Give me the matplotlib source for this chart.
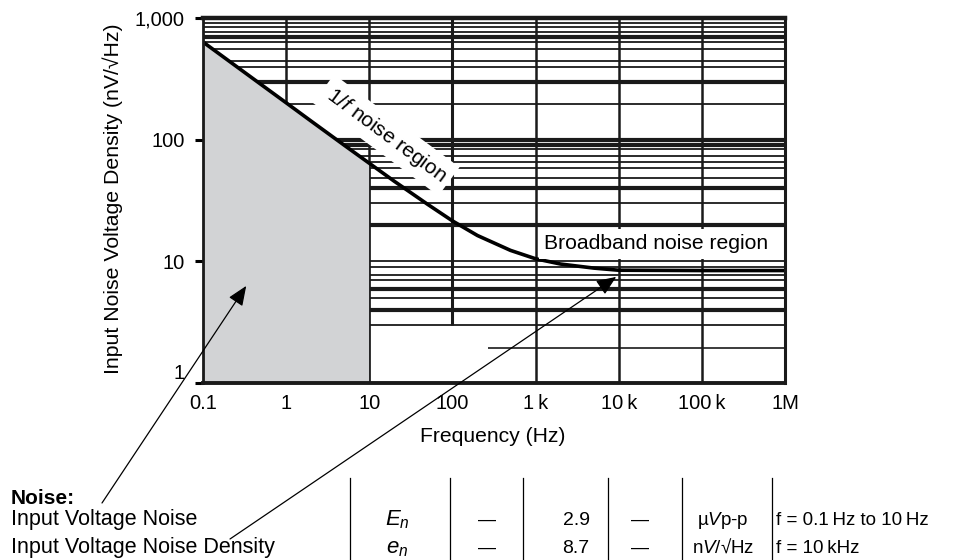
import matplotlib
matplotlib.use("Agg")
import matplotlib.pyplot as plt
from matplotlib.lines import Line2D

plt.rcParams['font.family'] = ['Liberation Sans', 'DejaVu Sans']
plt.rcParams['mathtext.fontset'] = 'custom'
plt.rcParams['mathtext.rm'] = 'Liberation Sans'
plt.rcParams['mathtext.it'] = 'Liberation Sans:italic'
plt.rcParams['mathtext.bf'] = 'Liberation Sans:bold'

# ---- data ----
freq = [0.1, 0.2, 0.5, 1, 2, 5, 10, 20, 50, 100, 200, 500, 1e3, 2e3, 5e3, 1e4, 1e5, 1e6]
noise = [635, 449, 284, 201, 142, 90, 64, 45.5, 29.5, 21.5, 16.3, 12.3, 10.5, 9.5, 8.8, 8.45, 8.4, 8.4]
shade_end = 10  # 1/f region shaded from 0.1 Hz to 10 Hz

x_ticks = [0.1, 1, 10, 100, 1e3, 1e4, 1e5, 1e6]
x_labels = ['0.1', '1', '10', '100', '1\u2009k', '10\u2009k', '100\u2009k', '1M']
y_ticks = [1, 10, 100, 1000]
y_labels = ['1', '10', '100', '1,000']

grid_thin = [910, 843, 767, 635, 556, 443, 396, 196, 84, 73.5, 65.6, 58.5, 48.4,
             30.2, 10, 9.0, 7.73, 7.04, 5.0, 3.0]
grid_thick = [698, 298, 100, 90, 40, 19.9, 5.93, 3.98]
grid_partial = 1.94
grid_partial_start = 271
vgrid_full = [1, 10, 1e3, 1e4, 1e5]
vgrid_short = 100
vgrid_short_bottom = 3

table_rows = ['Input Voltage Noise', 'Input Voltage Noise Density']
table_symbols = ['$E_n$', '$e_n$']
table_min = ['\u2014', '\u2014']
table_typ = ['2.9', '8.7']
table_max = ['\u2014', '\u2014']
table_units = ['\u00b5$V$p-p', 'n$V$/\u221aHz']
table_cond = ['f = 0.1\u2009Hz to 10\u2009Hz', 'f = 10\u2009kHz']

# ---- figure ----
W, H = 959, 560
fig = plt.figure(figsize=(W / 100, H / 100), dpi=100)
ax = fig.add_axes([203 / W, 1 - 383 / H, 582 / W, 365 / H])
ax.set_xscale('log')
ax.set_yscale('log')
ax.set_xlim(0.1, 1e6)
ax.set_ylim(1, 1000)

# grid
ax.hlines(grid_thin, 0.1, 1e6, color='#1a1a1a', lw=1.3, zorder=1)
ax.hlines(grid_thick, 0.1, 1e6, color='#1a1a1a', lw=3.0, zorder=1)
ax.hlines(grid_partial, grid_partial_start, 1e6, color='#1a1a1a', lw=1.2, zorder=1)
ax.vlines(vgrid_full, 1, 1000, color='#1a1a1a', lw=1.8, zorder=1)
ax.vlines(vgrid_short, vgrid_short_bottom, 1000, color='#1a1a1a', lw=2.2, zorder=1)

# shaded region
n_sh = freq.index(shade_end) + 1
ax.fill_between(freq[:n_sh], 1, noise[:n_sh], facecolor='#d2d3d5',
                edgecolor='#1a1a1a', lw=1.0, zorder=2)
# curve
ax.plot(freq, noise, color='black', lw=2.6, zorder=3, solid_capstyle='butt')

# labels in plot
ax.text(16, 109, '1/$f$ noise region', rotation=-36.5, rotation_mode='anchor',
        ha='center', va='center', fontsize=15, zorder=5,
        bbox=dict(boxstyle='square,pad=0.3', fc='white', ec='none'))
ax.text(28400, 13.9, 'Broadband noise region', ha='center', va='center',
        fontsize=15.2, zorder=5,
        bbox=dict(boxstyle='square,pad=0.25', fc='white', ec='none'))

# ticks & spines
ax.set_xticks(x_ticks)
ax.set_xticklabels(x_labels)
ax.set_yticks(y_ticks)
ax.set_yticklabels(y_labels)
ax.minorticks_off()
ax.tick_params(axis='y', direction='out', length=6, width=2.2, pad=7, labelsize=14.5)
ax.tick_params(axis='x', direction='in', length=0, pad=8, labelsize=14.5)
ax.yaxis.get_major_ticks()[0].label1.set_va('bottom')
for side, w in [('left', 2.0), ('bottom', 2.8), ('top', 3.2), ('right', 2.2)]:
    ax.spines[side].set_linewidth(w)
    ax.spines[side].set_color('#1a1a1a')
    ax.spines[side].set_zorder(4)

def fx(x):
    return x / W

def fy(y):
    return 1 - y / H

fig.text(fx(113), fy(199), 'Input Noise Voltage Density (nV/\u221aHz)', rotation=90,
         ha='center', va='center', fontsize=15.3)
fig.text(fx(493), fy(436), 'Frequency (Hz)', ha='center', va='center', fontsize=15.2)

# arrows
ax.annotate('', xy=(0.331, 6.28), xycoords='data', xytext=(102, H - 503),
            textcoords='figure pixels', annotation_clip=False,
            arrowprops=dict(arrowstyle='-|>,head_length=1.2,head_width=0.5',
                            color='black', lw=0.9, shrinkA=0, shrinkB=0), zorder=6)
ax.annotate('', xy=(9330, 7.45), xycoords='data', xytext=(230, H - 539),
            textcoords='figure pixels', annotation_clip=False,
            arrowprops=dict(arrowstyle='-|>,head_length=1.2,head_width=0.5',
                            color='black', lw=0.9, shrinkA=0, shrinkB=0), zorder=6)

# table
fig.text(fx(11), fy(504), 'Noise:', fontweight='bold', fontsize=15, ha='left', va='baseline')
row_base = [525, 553]
for i in range(2):
    yb = fy(row_base[i])
    fig.text(fx(11), yb, table_rows[i], fontsize=15.5, ha='left', va='baseline')
    fig.text(fx(397), yb, table_symbols[i], fontsize=16, ha='center', va='baseline')
    fig.text(fx(487), yb, table_min[i], fontsize=13, ha='center', va='baseline')
    fig.text(fx(576), yb, table_typ[i], fontsize=14, ha='center', va='baseline')
    fig.text(fx(640), yb, table_max[i], fontsize=13, ha='center', va='baseline')
    fig.text(fx(723), yb, table_units[i], fontsize=13.5, ha='center', va='baseline')
    fig.text(fx(776), yb, table_cond[i], fontsize=13.5, ha='left', va='baseline')

for xb in [350, 450, 523, 608, 682, 772]:
    fig.add_artist(Line2D([fx(xb), fx(xb)], [fy(478), fy(560)], color='black', lw=0.9))

fig.savefig('out.png', dpi=100)
